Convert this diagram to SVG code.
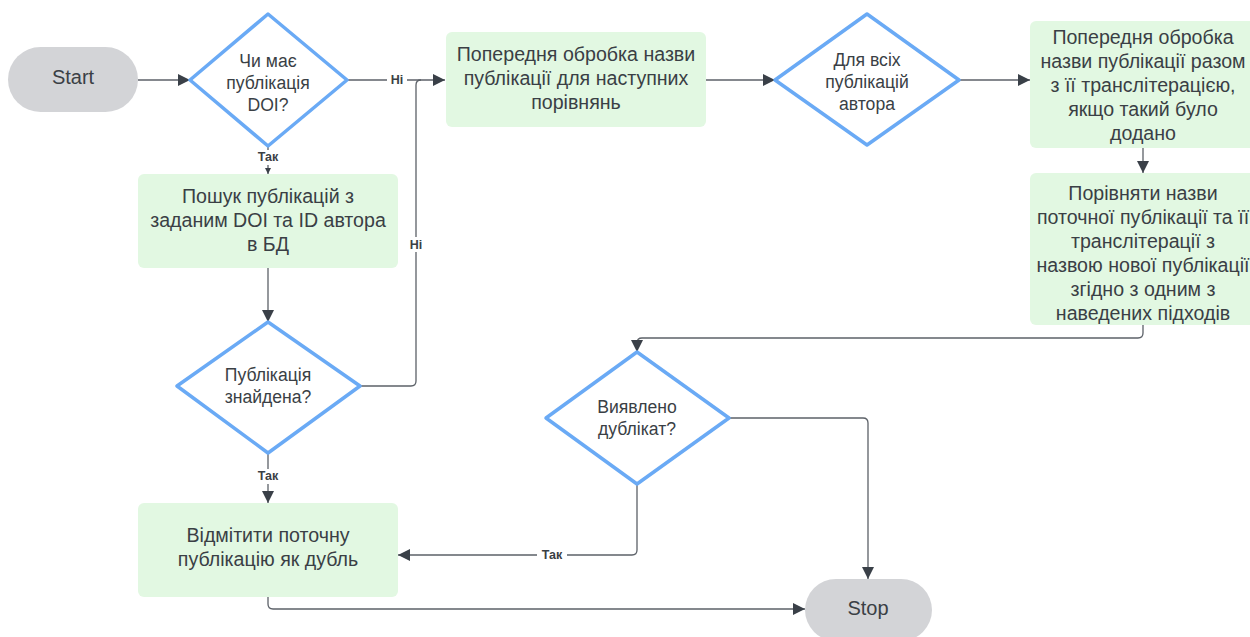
<svg xmlns="http://www.w3.org/2000/svg" width="1250" height="637" viewBox="0 0 1250 637">
<style>
.term{fill:#d3d4d7;}
.box{fill:#e2f8e2;}
.dia{fill:#ffffff;stroke:#6aaaf5;stroke-width:3.5;stroke-linejoin:round;}
.t{font-family:"Liberation Sans",Arial,sans-serif;font-size:19.6px;fill:#3a3f45;text-anchor:middle;}
.ts{font-family:"Liberation Sans",Arial,sans-serif;font-size:20px;fill:#3a3f45;text-anchor:middle;}
.td{font-family:"Liberation Sans",Arial,sans-serif;font-size:17.6px;fill:#3a3f45;text-anchor:middle;}
.lbl{font-family:"Liberation Sans",Arial,sans-serif;font-size:12.5px;font-weight:bold;fill:#3a3f45;text-anchor:middle;}
.c{fill:none;stroke:#5c6168;stroke-width:1.3;}
.lb{fill:#ffffff;}
</style>
<defs>
<marker id="arr" markerUnits="userSpaceOnUse" markerWidth="14" markerHeight="12" refX="12" refY="6" orient="auto">
<path d="M0,0 L12,6 L0,12 Z" fill="#3a4048"/>
</marker>
<marker id="arrs" markerUnits="userSpaceOnUse" markerWidth="8" markerHeight="8" refX="6" refY="3" orient="auto">
<path d="M0,0 L6,3 L0,6 Z" fill="#3a4048"/>
</marker>
</defs>

<g id="connectors">
<path class="c" d="M138,80 H190" marker-end="url(#arr)"/>
<path class="c" d="M347,80 H445" marker-end="url(#arr)"/>
<path class="c" d="M360,386 H411 Q416,386 416,381 V85 Q416,80 421,80"/>
<path class="c" d="M706,80 H775" marker-end="url(#arr)"/>
<path class="c" d="M959,80 H1030" marker-end="url(#arr)"/>
<path class="c" d="M1143,148 V173" marker-end="url(#arr)"/>
<path class="c" d="M1143,325 V333 Q1143,338 1138,338 H642 Q637,338 637,343 V352" marker-end="url(#arr)"/>
<path class="c" d="M268,146 V174" marker-end="url(#arrs)"/>
<path class="c" d="M268,268 V322" marker-end="url(#arr)"/>
<path class="c" d="M268,453 V503" marker-end="url(#arr)"/>
<path class="c" d="M729,418 H863 Q868,418 868,423 V579" marker-end="url(#arr)"/>
<path class="c" d="M637,484 V550 Q637,555 632,555 H398" marker-end="url(#arr)"/>
<path class="c" d="M268,597 V604 Q268,609 273,609 H805" marker-end="url(#arr)"/>
<rect class="lb" x="387" y="72" width="20" height="15"/>
<text class="lbl" x="397" y="84">Ні</text>
<rect class="lb" x="406" y="237" width="20" height="15"/>
<text class="lbl" x="416" y="249">Ні</text>
<rect class="lb" x="253" y="150" width="30" height="15"/>
<text class="lbl" x="268" y="161">Так</text>
<rect class="lb" x="253" y="469" width="30" height="15"/>
<text class="lbl" x="268" y="480">Так</text>
<rect class="lb" x="537" y="548" width="30" height="15"/>
<text class="lbl" x="552" y="559">Так</text>
</g>

<g id="start">
<rect class="term" x="8" y="47" width="130" height="65" rx="32.5"/>
<text class="ts" x="73" y="84">Start</text>
</g>

<g id="has-doi">
<path class="dia" d="M268,14 L347,80 L268,146 L190,80 Z"/>
<text class="td" x="268" y="67">Чи має</text>
<text class="td" x="268" y="89">публікація</text>
<text class="td" x="268" y="111">DOI?</text>
</g>

<g id="preprocess">
<rect class="box" x="446" y="32" width="260" height="95" rx="6"/>
<text class="t" x="576" y="61">Попередня обробка назви</text>
<text class="t" x="576" y="85">публікації для наступних</text>
<text class="t" x="576" y="109">порівнянь</text>
</g>

<g id="for-all">
<path class="dia" d="M867,14 L959,80 L867,145 L775,80 Z"/>
<text class="td" x="867" y="66">Для всіх</text>
<text class="td" x="867" y="88">публікацій</text>
<text class="td" x="867" y="110">автора</text>
</g>

<g id="preprocess-translit">
<rect class="box" x="1030" y="21" width="226" height="127" rx="6"/>
<text class="t" x="1143" y="44">Попередня обробка</text>
<text class="t" x="1143" y="68">назви публікації разом</text>
<text class="t" x="1143" y="92">з її транслітерацією,</text>
<text class="t" x="1143" y="116">якщо такий було</text>
<text class="t" x="1143" y="140">додано</text>
</g>

<g id="compare">
<rect class="box" x="1030" y="173" width="226" height="152" rx="6"/>
<text class="t" x="1143" y="200">Порівняти назви</text>
<text class="t" x="1143" y="224">поточної публікації та її</text>
<text class="t" x="1143" y="248">транслітерації з</text>
<text class="t" x="1143" y="272">назвою нової публікації</text>
<text class="t" x="1143" y="296">згідно з одним з</text>
<text class="t" x="1143" y="320">наведених підходів</text>
</g>

<g id="search">
<rect class="box" x="138" y="174" width="260" height="94" rx="6"/>
<text class="t" x="268" y="203">Пошук публікацій з</text>
<text class="t" x="268" y="227">заданим DOI та ID автора</text>
<text class="t" x="268" y="251">в БД</text>
</g>

<g id="found">
<path class="dia" d="M268,322 L360,386 L268,453 L177,386 Z"/>
<text class="td" x="268" y="381">Публікація</text>
<text class="td" x="268" y="403">знайдена?</text>
</g>

<g id="duplicate">
<path class="dia" d="M637,352 L729,418 L637,484 L546,418 Z"/>
<text class="td" x="637" y="413">Виявлено</text>
<text class="td" x="637" y="435">дублікат?</text>
</g>

<g id="mark">
<rect class="box" x="138" y="503" width="260" height="94" rx="6"/>
<text class="t" x="268" y="542">Відмітити поточну</text>
<text class="t" x="268" y="566">публікацію як дубль</text>
</g>

<g id="stop">
<rect class="term" x="805" y="579" width="127" height="62" rx="31"/>
<text class="ts" x="868" y="615">Stop</text>
</g>
</svg>
